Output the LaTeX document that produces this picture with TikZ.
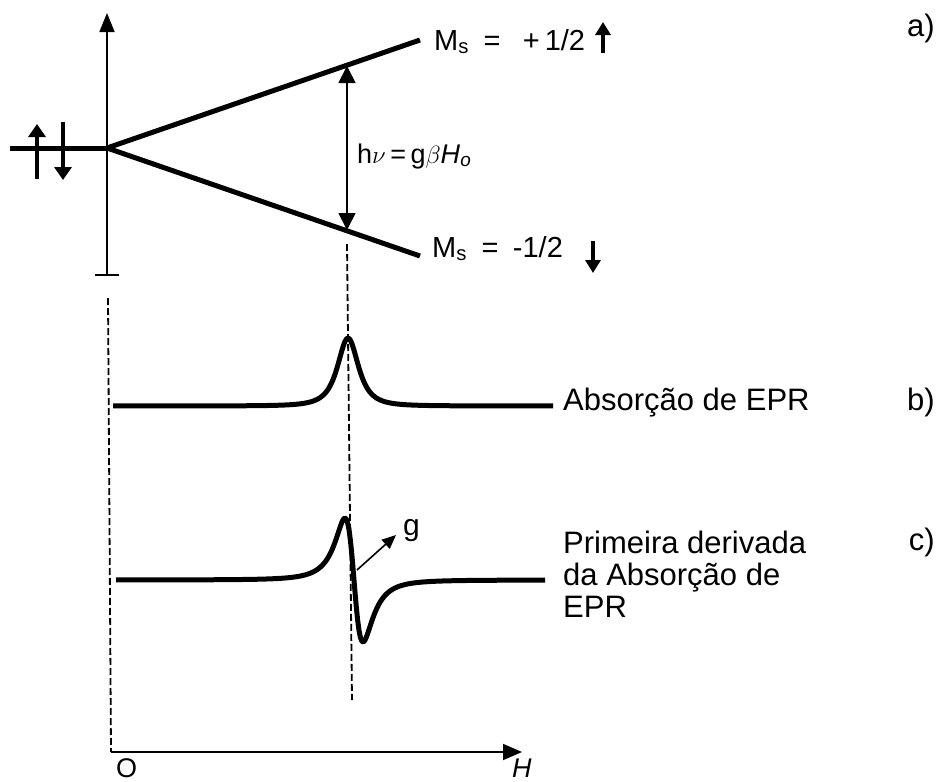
\documentclass[tikz,border=0pt]{standalone}
\usepackage{fontspec}
\setmainfont{Liberation Sans}
\usetikzlibrary{arrows.meta,positioning,calc}
\tikzset{
  line-level/.style={line width=5pt},
  line-axis/.style={line width=1.8pt},
  line-guide/.style={line width=1.8pt,dash pattern=on 7pt off 3pt},
  arrow-axis/.style={line-axis,-{Triangle[length=19pt,width=16pt]}},
  arrow-gap/.style={line-axis,{Triangle[length=17pt,width=17pt]}-{Triangle[length=17pt,width=17pt]}},
  arrow-g/.style={line width=1.6pt,-{Triangle[length=14pt,width=12pt]}},
  arrow-spin/.style={line width=4.5pt,-{Triangle[length=13pt,width=17pt]}},
  arrow-spin-small/.style={line width=3.5pt,-{Triangle[length=13pt,width=15pt]}},
  txt/.style={inner sep=0pt,font=\fontsize{29}{32}\selectfont},
  txt-big/.style={inner sep=0pt,align=left,font=\fontsize{31}{32}\selectfont},
  declare function={
    absorb(\t)=406-68/(1+((\t-348)/16)^2)^1.5;
    deriv(\t)=580+191*((\t-354)/15.6)/(1+((\t-354)/15.6)^2)/(1+((\t-354)/15.6)^2);
  },
}

\begin{document}
\begin{tikzpicture}[x=1pt,y=-1pt]
  \useasboundingbox (0,0) rectangle (943,782);
  % a) Zeeman levels
  \coordinate (origin) at (107,148);
  \coordinate (up-end) at (420,40);
  \coordinate (dn-end) at (420,256);
  \coordinate (res-top) at (347,66);
  \coordinate (res-bot) at (347,230);
  \draw[line-axis,{Bar[width=24pt]}-{Triangle[length=19pt,width=15pt]}] (107,276) -- (107,13);
  \draw[line-level] (10,148) -- (origin);
  \draw[line-level,line join=round] (up-end) -- (origin) -- (dn-end);
  \draw[arrow-spin] (37,179) -- (37,124);
  \draw[arrow-spin] (63,122) -- (63,180);
  \draw[arrow-gap] (res-top) -- (res-bot);
  \node[txt,anchor=base west,font=\fontsize{27}{30}\selectfont] (gap) at (357,163) {h$\nu$\,=\,g$\beta$\textit{H}\textsubscript{\textit{o}}};
  \node[txt,anchor=base west] (ms-up) at (434,50) {M\textsubscript{s}\enspace=\enspace\;+\,1/2};
  \node[txt,anchor=base west] (ms-dn) at (432,257) {M\textsubscript{s}\enspace=\enspace-1/2};
  \draw[arrow-spin-small] (603,53) -- (603,22);
  \draw[arrow-spin-small] (593,241) -- (593,273);
  \node[txt,anchor=base east,font=\fontsize{31}{32}\selectfont] (lbl-a) at (935,36) {a)};
  % guides and field axis
  \draw[line-guide] (347,244) -- (352,700);
  \draw[line-guide] (108,298) -- (111,752);
  \draw[arrow-axis] (111,752) -- (522,752);
  \node[txt,anchor=base west,font=\fontsize{27}{30}\selectfont] (zero) at (116,777) {O};
  \node[txt,anchor=base west,font=\fontsize{27}{30}\selectfont] (field) at (512,777) {\textit{H}};
  % b) absorption
  \draw[line-level,line join=round] plot[domain=113:553,samples=301] (\x,{absorb(\x)});
  \node[txt-big,anchor=base west] (abs) at (563,410) {Absorção de EPR};
  \node[txt,anchor=base east,font=\fontsize{31}{32}\selectfont] (lbl-b) at (935,410) {b)};
  % c) first derivative
  \draw[line-level,line join=round] plot[domain=116:545,samples=301] (\x,{deriv(\x)});
  \coordinate (g-foot) at (357,570);
  \node[txt,anchor=base west,font=\fontsize{30}{32}\selectfont] (g) at (403,535) {g};
  \draw[arrow-g] (g-foot) -- ($(g.base west)+(-7,0)$);
  \node[txt-big,anchor=base west] (deriv) at (563,617) {Primeira derivada\\da Absorção de\\EPR};
  \node[txt,anchor=base east,font=\fontsize{31}{32}\selectfont] (lbl-c) at (935,550) {c)};
\end{tikzpicture}
\end{document}
